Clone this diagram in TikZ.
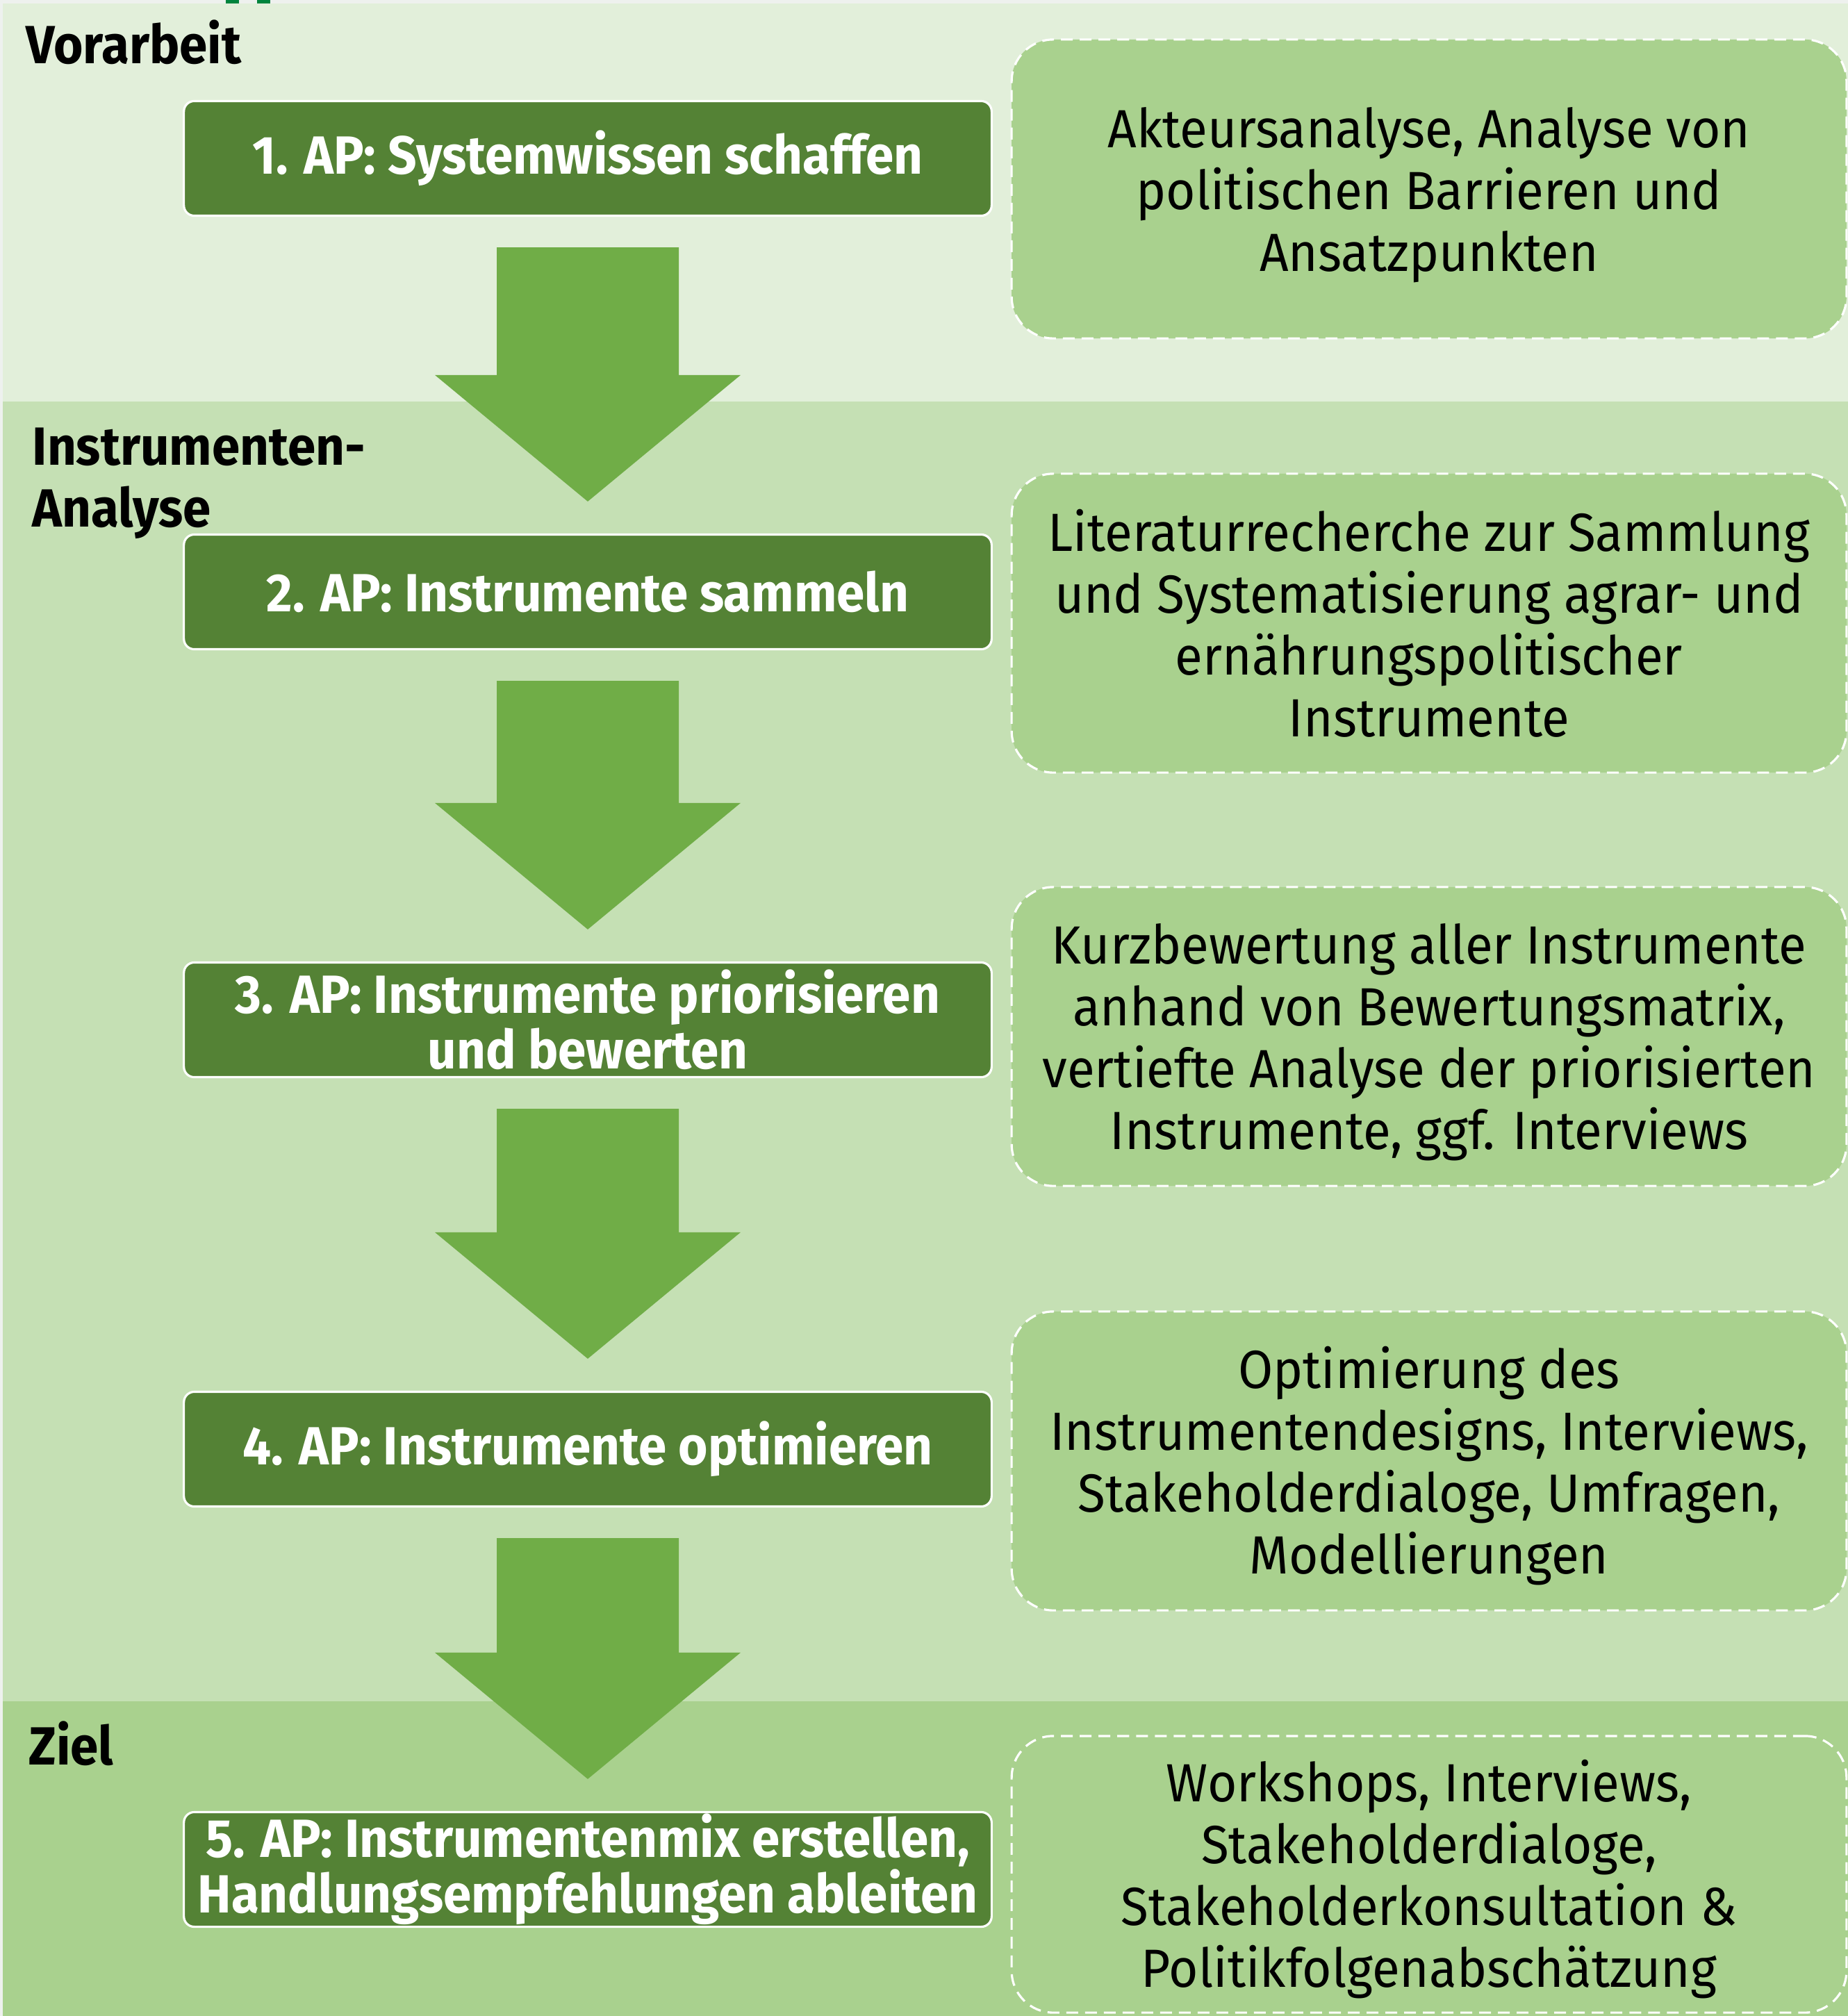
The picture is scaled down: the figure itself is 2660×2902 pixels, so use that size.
\documentclass[tikz,border=0pt]{standalone}
\usepackage{fontspec}
\setmainfont{Fira Sans}[FakeStretch=0.94]
\usetikzlibrary{calc}

\definecolor{stripgray}{HTML}{EEF1EE}
\definecolor{bandtop}{HTML}{E2EFDA}
\definecolor{bandmid}{HTML}{C5E0B4}
\definecolor{bandlow}{HTML}{A9D18E}
\definecolor{apgreen}{HTML}{548235}
\definecolor{arrowgreen}{HTML}{70AD47}
\definecolor{infogreen}{HTML}{A9D18E}
\definecolor{logogreen}{HTML}{00843D}

\tikzset{
  apbox/.style={draw=white, line width=0.9pt, fill=apgreen, rounded corners=0.15cm,
    text=white, align=center, inner sep=0pt, minimum width=11.62cm, minimum height=1.65cm,
    font=\bfseries\fontsize{22}{22.8}\selectfont},
  infobox/.style={draw=white, line width=0.9pt, dash pattern=on 0.17cm off 0.1cm,
    fill=infogreen, rounded corners=0.6cm, align=center, inner sep=0pt,
    minimum width=12.01cm, minimum height=4.3cm,
    font=\fontsize{22}{25.3}\selectfont},
  phase/.style={anchor=north west, inner sep=0pt, align=left,
    font=\bfseries\fontsize{22}{25.3}\selectfont}
}

% block arrow from one AP box down to the next
\newcommand\bigarrow[2]{%
  \fill[arrowgreen] ($(#1.south)+(-131,44)$) -- ($(#1.south)+(131,44)$)
    -- ($(#2.north)+(131,-228)$) -- ($(#2.north)+(220,-228)$)
    -- ($(#2.north)+(0,-46)$)
    -- ($(#2.north)+(-220,-228)$) -- ($(#2.north)+(-131,-228)$) -- cycle;}

\begin{document}
\begin{tikzpicture}[x=0.01cm, y=-0.01cm]
    \useasboundingbox (0, 0) rectangle (2660, 2902);
    \fill[stripgray] (0, 0) rectangle (2660, 2902);
    \fill[logogreen] (325, 0) rectangle (344, 5);
    \fill[logogreen] (370, 0) rectangle (389, 5);

    \fill[bandtop] (4, 5) rectangle (2660, 578);
    \fill[bandmid] (4, 578) rectangle (2660, 2449);
    \fill[bandlow] (4, 2449) rectangle (2660, 2902);

    \node[phase] (vorarbeit) at (37, 28) {Vorarbeit};
    \node[phase] (analyse) at (46, 615) {Instrumenten-\\Analyse};
    \node[phase] (ziel) at (41, 2477) {Ziel};

    \node[apbox] (ap1) at (846, 228) {1. AP: Systemwissen schaffen};
    \node[apbox] (ap2) at (846, 852) {2. AP: Instrumente sammeln};
    \node[apbox] (ap3) at (846, 1468) {3. AP: Instrumente priorisieren\\und bewerten};
    \node[apbox] (ap4) at (846, 2086) {4. AP: Instrumente optimieren};
    \node[apbox] (ap5) at (846, 2691) {5. AP: Instrumentenmix erstellen,\\Handlungsempfehlungen ableiten};

    \bigarrow{ap1}{ap2}
    \bigarrow{ap2}{ap3}
    \bigarrow{ap3}{ap4}
    \bigarrow{ap4}{ap5}

    \node[infobox] (info1) at (2057, 272) {\\[-0.14cm]Akteursanalyse, Analyse von\\politischen Barrieren und\\Ansatzpunkten};
    \node[infobox] (info2) at (2057, 897) {Literaturrecherche zur Sammlung\\und Systematisierung agrar- und\\ernährungspolitischer\\Instrumente};
    \node[infobox] (info3) at (2057, 1492) {\\[-0.14cm]Kurzbewertung aller Instrumente\\anhand von Bewertungsmatrix,\\vertiefte Analyse der priorisierten\\Instrumente, ggf. Interviews};
    \node[infobox] (info4) at (2057, 2103) {\\[-0.14cm]Optimierung des\\Instrumentendesigns, Interviews,\\Stakeholderdialoge, Umfragen,\\Modellierungen};
    \node[infobox, minimum height=3.98cm] (info5) at (2057, 2698) {\\[-0.14cm]Workshops, Interviews,\\Stakeholderdialoge,\\Stakeholderkonsultation \&\\Politikfolgenabschätzung};
\end{tikzpicture}
\end{document}
